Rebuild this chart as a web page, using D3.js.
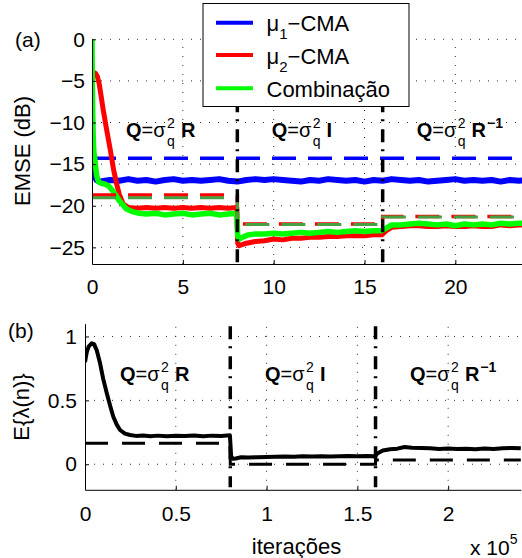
<!DOCTYPE html>
<html><head><meta charset="utf-8">
<script src="https://cdn.jsdelivr.net/npm/d3@7"></script>
<style>
html,body{margin:0;padding:0;background:#fff;}
svg{display:block;font-family:"Liberation Sans",Arial,Helvetica,sans-serif;}
</style></head>
<body>
<svg id="chart" width="522" height="558"></svg>
<script>
// ---------------- DATA ----------------
// Top panel: x in units of 1e4 iterations, EMSE in dB
const topXTicks = [0, 5, 10, 15, 20];
const topYTicks = [0, -5, -10, -15, -20, -25];
const changePointsTop = [8, 16];
const seriesNames = ["\u03bc1\u2013CMA", "\u03bc2\u2013CMA", "Combina\u00e7\u00e3o"];

const mu1Head = [[0,-8.8],[0.03,-13.5],[0.08,-15.8],[0.15,-16.5],[0.25,-16.9],[0.4,-17.1],[0.7,-17.0]];
const mu1FlatX0 = 1, mu1FlatStep = 0.5;
const mu1Flat = [-16.9,-17.0,-16.8,-17.0,-16.9,-17.1,-16.9,-16.8,-17.0,-16.9,-17.0,-16.9,-16.8,-17.0,-17.1,-16.9,
  -16.8,-16.9,-16.8,-16.9,-17.0,-17.1,-16.9,-17.0,-16.8,-16.9,-17.0,-16.9,-17.1,-16.9,-17.0,-16.8,
  -16.9,-17.0,-16.9,-17.1,-17.0,-16.9,-16.8,-17.0,-16.9,-17.0,-16.9,-17.1,-16.9,-17.0,-16.9];

const mu2Curve = [[0,-4.3],[0.12,-4.0],[0.2,-4.1],[0.3,-4.5],[0.4,-5.4],[0.5,-6.8],[0.62,-8.5],[0.8,-10.8],
  [1.0,-13.2],[1.2,-15.8],[1.36,-17.4],[1.5,-18.6],[1.72,-19.8],[2.0,-20.2],[2.5,-20.3],[3,-20.2],[3.5,-20.3],
  [4,-20.2],[4.5,-20.3],[5,-20.2],[5.5,-20.3],[6,-20.2],[6.5,-20.3],[7,-20.2],[7.5,-20.3],[7.97,-20.2],
  [8.02,-24.5],[8.1,-24.8],[8.5,-24.5],[9,-24.3],[9.5,-24.2],[10,-24.0],[10.5,-24.1],[11,-23.9],[11.5,-23.9],
  [12,-23.8],[12.5,-23.8],[13,-23.7],[13.5,-23.7],[14,-23.6],[14.5,-23.6],[15,-23.6],[15.5,-23.5],[15.95,-23.5],
  [16.2,-23.0],[16.5,-22.6],[17,-22.5],[17.5,-22.4],[18,-22.4],[18.5,-22.5],[19,-22.5],[19.5,-22.4],[20,-22.5],
  [20.5,-22.5],[21,-22.4],[21.5,-22.5],[22,-22.5],[22.5,-22.3],[23,-22.4],[23.5,-22.3],[24,-22.3]];

const combCurve = [[0,0],[0.02,-6],[0.05,-11],[0.1,-13.5],[0.15,-14.3],[0.25,-16.3],[0.35,-17.1],[0.5,-17.3],
  [0.7,-17.4],[0.9,-17.6],[1.1,-18.1],[1.3,-18.7],[1.5,-19.4],[1.7,-19.9],[1.9,-20.4],[2.2,-20.7],[2.6,-20.9],
  [3,-21.0],[3.5,-20.9],[4,-21.1],[4.5,-21.0],[5,-20.9],[5.5,-21.1],[6,-21.0],[6.5,-20.9],[7,-21.1],[7.5,-21.0],
  [7.97,-20.9],[8.02,-23.6],[8.1,-24.0],[8.3,-23.8],[8.6,-23.5],[9,-23.4],[9.5,-23.4],[10,-23.3],[10.5,-23.4],
  [11,-23.3],[11.5,-23.2],[12,-23.3],[12.5,-23.2],[13,-23.1],[13.5,-23.2],[14,-23.1],[14.5,-23.0],[15,-23.1],
  [15.5,-23.0],[15.95,-23.0],[16.2,-22.7],[16.5,-22.3],[17,-22.3],[17.5,-22.2],[18,-22.1],[18.5,-22.2],[19,-22.3],
  [19.5,-22.2],[20,-22.4],[20.5,-22.2],[21,-22.3],[21.5,-22.2],[22,-22.3],[22.5,-22.1],[23,-22.2],[23.5,-22.1],[24,-22.1]];

// theoretical (dashed) levels per segment
const segEdgesTop = [0, 8, 16, 24];
const mu1Theory = [-14.3, -14.3, -14.3];
const mu2Theory = [-18.7, -22.2, -21.3];
const combTheory = [-19.05, -22.25, -21.35];

// Bottom panel: x in units of 1e5 iterations
const botXTicks = [0, 0.5, 1, 1.5, 2];
const botYTicks = [0, 0.5, 1];
const changePointsBot = [0.8, 1.6];
const segEdgesBot = [0, 0.8, 1.6, 2.4];
const lambdaTheory = [0.164, 0.0, 0.033];
const lambdaCurve = [[0,0.80],[0.01,0.88],[0.02,0.92],[0.037,0.947],[0.05,0.94],[0.065,0.89],[0.083,0.79],[0.1,0.67],
  [0.12,0.556],[0.14,0.45],[0.156,0.372],[0.175,0.31],[0.193,0.268],[0.22,0.24],[0.248,0.229],[0.28,0.222],[0.32,0.225],
  [0.36,0.22],[0.4,0.224],[0.45,0.219],[0.5,0.223],[0.55,0.221],[0.6,0.225],[0.65,0.22],[0.7,0.224],[0.75,0.222],
  [0.798,0.226],[0.805,0.06],[0.815,0.042],[0.83,0.045],[0.86,0.055],[0.9,0.052],[0.95,0.055],[1.0,0.056],[1.05,0.058],
  [1.1,0.06],[1.15,0.058],[1.2,0.062],[1.25,0.06],[1.3,0.063],[1.35,0.061],[1.4,0.062],[1.45,0.064],[1.5,0.062],
  [1.55,0.064],[1.598,0.062],[1.61,0.085],[1.64,0.108],[1.68,0.118],[1.72,0.122],[1.76,0.135],[1.8,0.13],[1.85,0.127],
  [1.9,0.125],[1.95,0.12],[2.0,0.123],[2.05,0.12],[2.1,0.122],[2.15,0.118],[2.2,0.124],[2.25,0.12],[2.3,0.125],
  [2.35,0.128],[2.4,0.125]];

// ---------------- DRAW ----------------
const svg = d3.select("#chart");
const FONT = 21;
const FAM = '"Liberation Sans",Arial,Helvetica,sans-serif';

const xT = d3.scaleLinear().domain([0, 24]).range([92, 528]);
const yT = d3.scaleLinear().domain([-27, 0]).range([264, 39.3]);
const xB = d3.scaleLinear().domain([0, 2.4]).range([85, 520.8]);
const yB = d3.scaleLinear().domain([-0.2, 1.1]).range([489.8, 323.7]);

const line = (xs, ys) => d3.line().x(d => xs(d[0])).y(d => ys(d[1]));
const fmt = d => (d < 0 ? "\u2212" : "") + String(Math.abs(d));

function stepPts(edges, levels) {
  const pts = [];
  levels.forEach((v, i) => { pts.push([edges[i], v]); pts.push([edges[i + 1], v]); });
  return pts;
}

function grid(g, xs, ys, xt, yt) {
  const [x0, x1] = xs.range(), [y0, y1] = ys.range();
  g.selectAll(".gx").data(xt.filter(t => t !== xs.domain()[0])).join("line")
    .attr("x1", d => xs(d)).attr("x2", d => xs(d)).attr("y1", y0).attr("y2", y1)
    .attr("stroke", "#333").attr("stroke-width", 1).attr("stroke-dasharray", "1,8");
  g.selectAll(".gy").data(yt).join("line")
    .attr("x1", x0).attr("x2", x1).attr("y1", d => ys(d)).attr("y2", d => ys(d))
    .attr("stroke", "#333").attr("stroke-width", 1).attr("stroke-dasharray", "1,8");
}

function axes(g, xs, ys, xt, yt, xPad, yPad) {
  const gx = g.append("g").attr("transform", `translate(0,${ys.range()[0]})`)
    .call(d3.axisBottom(xs).tickValues(xt).tickFormat(fmt).tickSizeInner(-4).tickSizeOuter(0).tickPadding(xPad));
  const gy = g.append("g").attr("transform", `translate(${xs.range()[0]},0)`)
    .call(d3.axisLeft(ys).tickValues(yt).tickFormat(fmt).tickSizeInner(-4).tickSizeOuter(0).tickPadding(yPad));
  [gx, gy].forEach(a => {
    a.attr("font-family", FAM).attr("font-size", FONT);
    a.selectAll("text").attr("fill", "#000");
    a.selectAll("path,line").attr("stroke", "#000");
  });
}

function qLabel(g, x, y, sub, inv) {
  const t1 = g.append("text").attr("x", x).attr("y", y).attr("font-size", 20).attr("font-weight", "bold").text("Q");
  let cx = x + t1.node().getComputedTextLength();
  const t2 = g.append("text").attr("x", cx).attr("y", y).attr("font-size", 20).text("=\u03c3");
  cx += t2.node().getComputedTextLength() + 1.5;
  const s1 = g.append("text").attr("x", cx).attr("y", y - 9).attr("font-size", 14).text("2");
  const s2 = g.append("text").attr("x", cx).attr("y", y + 8.5).attr("font-size", 14).text("q");
  cx += Math.max(s1.node().getComputedTextLength(), s2.node().getComputedTextLength()) + 6;
  const t3 = g.append("text").attr("x", cx).attr("y", y).attr("font-size", 20).attr("font-weight", "bold").text(sub);
  cx += t3.node().getComputedTextLength() + 1;
  if (inv) g.append("text").attr("x", cx).attr("y", y - 9).attr("font-size", 14).attr("font-weight", "bold").text("\u22121");
}

// clip
svg.append("clipPath").attr("id", "clipT").append("rect").attr("x", 92).attr("y", 0).attr("width", 430).attr("height", 270);
svg.append("clipPath").attr("id", "clipB").append("rect").attr("x", 85).attr("y", 300).attr("width", 437).attr("height", 195);

// ----- top panel -----
const gT = svg.append("g");
grid(gT, xT, yT, topXTicks, topYTicks);
const pT = gT.append("g").attr("clip-path", "url(#clipT)");
const lT = line(xT, yT);

const mu1Curve = mu1Head.concat(mu1Flat.map((v, i) => [mu1FlatX0 + i * mu1FlatStep, v]));

pT.append("path").attr("d", lT(stepPts(segEdgesTop, mu1Theory))).attr("fill", "none")
  .attr("stroke", "#0000ff").attr("stroke-width", 3.5).attr("stroke-dasharray", "24,12");
pT.append("path").attr("d", lT(mu1Curve)).attr("fill", "none").attr("stroke", "#0000ff").attr("stroke-width", 6)
  .attr("stroke-linejoin", "round");
pT.append("path").attr("d", lT(mu2Curve)).attr("fill", "none").attr("stroke", "#ff0000").attr("stroke-width", 5)
  .attr("stroke-linejoin", "round");
pT.append("path").attr("d", lT(combCurve)).attr("fill", "none").attr("stroke", "#00ff00").attr("stroke-width", 5.5)
  .attr("stroke-linejoin", "round");
pT.append("path").attr("d", lT(stepPts(segEdgesTop, mu2Theory))).attr("fill", "none")
  .attr("stroke", "#ff0000").attr("stroke-width", 3.5).attr("stroke-dasharray", "24,12");
pT.append("path").attr("d", lT(stepPts(segEdgesTop, combTheory))).attr("fill", "none")
  .attr("stroke", "#44a040").attr("stroke-width", 3).attr("stroke-dasharray", "24,12");

changePointsTop.forEach(c => {
  pT.append("line").attr("x1", xT(c)).attr("x2", xT(c)).attr("y1", yT(0)).attr("y2", yT(-27))
    .attr("stroke", "#000").attr("stroke-width", 3.5).attr("stroke-dasharray", "13,7,2,8");
});
axes(gT, xT, yT, topXTicks, topYTicks, 15, 7);
[{x: 126, sub: "R", inv: false}, {x: 271.7, sub: "I", inv: false}, {x: 416.7, sub: "R", inv: true}]
  .forEach(r => qLabel(gT, r.x, 137, r.sub, r.inv));

// legend
const lg = svg.append("g");
lg.append("rect").attr("x", 203).attr("y", 3.5).attr("width", 206).attr("height", 103)
  .attr("fill", "#fff").attr("stroke", "#000").attr("stroke-width", 1);
const legColors = ["#0000ff", "#ff0000", "#00ff00"];
const legY = [22.7, 55, 88.3];
seriesNames.forEach((n, i) => {
  lg.append("line").attr("x1", 216).attr("x2", 253).attr("y1", legY[i]).attr("y2", legY[i])
    .attr("stroke", legColors[i]).attr("stroke-width", 4);
  const t = lg.append("text").attr("x", 266.5).attr("y", legY[i] + 8.5).attr("font-size", 22);
  if (i < 2) {
    t.append("tspan").text("\u03bc");
    t.append("tspan").attr("font-size", 15).attr("dy", 8).text(n.charAt(1));
    t.append("tspan").attr("dy", -8).text("\u2212CMA");
  } else {
    t.text(n);
  }
});

// ----- bottom panel -----
const gB = svg.append("g");
grid(gB, xB, yB, botXTicks, botYTicks);
const pB = gB.append("g").attr("clip-path", "url(#clipB)");
const lB = line(xB, yB);
pB.append("path").attr("d", lB(stepPts(segEdgesBot, lambdaTheory))).attr("fill", "none")
  .attr("stroke", "#000").attr("stroke-width", 3).attr("stroke-dasharray", "23,14");
pB.append("path").attr("d", lB(lambdaCurve)).attr("fill", "none").attr("stroke", "#000").attr("stroke-width", 4)
  .attr("stroke-linejoin", "round");
changePointsBot.forEach(c => {
  pB.append("line").attr("x1", xB(c)).attr("x2", xB(c)).attr("y1", yB(1.08)).attr("y2", yB(-0.18))
    .attr("stroke", "#000").attr("stroke-width", 3.5).attr("stroke-dasharray", "13,7,2,8");
});
axes(gB, xB, yB, botXTicks, botYTicks, 16.5, 8);
[{x: 120, sub: "R", inv: false}, {x: 265, sub: "I", inv: false}, {x: 410, sub: "R", inv: true}]
  .forEach(r => qLabel(gB, r.x, 381, r.sub, r.inv));

// ----- labels -----
svg.append("text").attr("x", 15).attr("y", 47).attr("font-size", FONT).text("(a)");
svg.append("text").attr("x", 8).attr("y", 338).attr("font-size", FONT).text("(b)");
svg.append("text").attr("transform", "translate(30,151) rotate(-90)").attr("text-anchor", "middle")
  .attr("font-size", 22).text("EMSE (dB)");
svg.append("text").attr("transform", "translate(29,407) rotate(-90)").attr("text-anchor", "middle")
  .attr("font-size", 22).text("E{\u03bb(n)}");
svg.append("text").attr("x", 296.5).attr("y", 554).attr("text-anchor", "middle").attr("font-size", 22).text("itera\u00e7\u00f5es");
const xl = svg.append("text").attr("x", 470).attr("y", 555).attr("font-size", 21);
xl.append("tspan").text("x 10");
xl.append("tspan").attr("font-size", 14).attr("dy", -11).text("5");
</script>
</body></html>
